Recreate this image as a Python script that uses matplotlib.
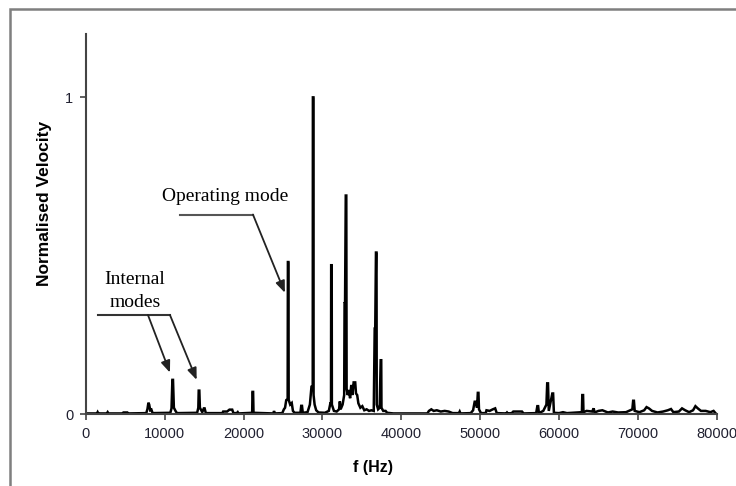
import matplotlib
matplotlib.use("Agg")
import numpy as np
from matplotlib import pyplot as plt
from matplotlib.patches import Rectangle

# spectrum: (frequency in Hz, normalised velocity)
low_band = [
    (0, 0.002), (1400, 0.002), (1480, 0.006), (1560, 0.002), (2650, 0.002),
    (2750, 0.006), (2850, 0.002), (4650, 0.002), (4750, 0.005), (5250, 0.005),
    (5350, 0.002), (7650, 0.003), (7800, 0.016), (7920, 0.036), (8020, 0.030),
    (8150, 0.012), (8300, 0.014), (8450, 0.003), (10700, 0.004), (10850, 0.018),
    (10960, 0.108), (11040, 0.108), (11150, 0.020), (11400, 0.008), (11550, 0.003),
    (14100, 0.004), (14250, 0.020), (14300, 0.074), (14380, 0.074), (14450, 0.020),
    (14750, 0.006), (14950, 0.018), (15050, 0.018), (15200, 0.003), (17300, 0.003),
    (17400, 0.008), (17900, 0.008), (18200, 0.014), (18550, 0.014), (18700, 0.003),
    (19150, 0.003), (19250, 0.006), (19350, 0.002), (21080, 0.004), (21120, 0.070),
    (21200, 0.070), (21250, 0.004), (23800, 0.002), (23850, 0.010), (23920, 0.002),
    (24900, 0.003), (25100, 0.015), (25250, 0.020), (25400, 0.044), (25580, 0.048),
    (25610, 0.480), (25680, 0.480), (25710, 0.045), (25900, 0.030), (26100, 0.035),
    (26250, 0.010), (26450, 0.004),
]

mid_band = [
    (27200, 0.004), (27300, 0.026), (27400, 0.026), (27500, 0.004), (28100, 0.006),
    (28400, 0.030), (28600, 0.086), (28760, 0.086), (28780, 1.000), (28850, 1.000),
    (28870, 0.060), (29000, 0.030), (29200, 0.012), (29500, 0.005), (30300, 0.004),
    (30800, 0.010), (31000, 0.034), (31080, 0.034), (31100, 0.470), (31170, 0.470),
    (31190, 0.030), (31450, 0.010), (31800, 0.008), (32100, 0.015), (32200, 0.040),
    (32300, 0.015), (32550, 0.030), (32750, 0.060), (32800, 0.350), (32860, 0.350),
    (32950, 0.690), (33020, 0.690), (33060, 0.080), (33200, 0.060), (33350, 0.076),
    (33500, 0.050), (33650, 0.092), (33800, 0.060), (33950, 0.100), (34150, 0.100),
    (34250, 0.065), (34400, 0.060), (34550, 0.034), (34800, 0.020), (35050, 0.025),
    (35300, 0.012), (35600, 0.015), (35900, 0.010), (36200, 0.012), (36500, 0.010),
    (36620, 0.270), (36690, 0.270), (36780, 0.510), (36850, 0.510), (36880, 0.030),
    (37050, 0.015), (37250, 0.020), (37380, 0.170), (37450, 0.170), (37480, 0.020),
    (37700, 0.010), (38000, 0.010), (38200, 0.004),
]

high_band = [
    (39000, 0.002), (43300, 0.002), (43500, 0.010), (43800, 0.015), (44100, 0.010),
    (44500, 0.012), (45000, 0.008), (45500, 0.010), (46000, 0.008), (46500, 0.003),
    (47300, 0.003), (47400, 0.008), (47500, 0.002), (48800, 0.003), (49100, 0.012),
    (49300, 0.039), (49450, 0.039), (49600, 0.020), (49700, 0.067), (49780, 0.067),
    (49850, 0.015), (50100, 0.003), (50700, 0.003), (50800, 0.012), (51200, 0.010),
    (51600, 0.015), (51900, 0.018), (52100, 0.003), (53300, 0.002), (53400, 0.005),
    (53500, 0.002), (54000, 0.003), (54200, 0.008), (55300, 0.008), (55500, 0.002),
    (57100, 0.003), (57250, 0.025), (57350, 0.025), (57450, 0.003), (58000, 0.010),
    (58400, 0.030), (58500, 0.097), (58600, 0.097), (58700, 0.010), (59150, 0.065),
    (59250, 0.065), (59350, 0.004), (60000, 0.003), (60500, 0.006), (61000, 0.003),
    (62900, 0.006), (62950, 0.060), (63050, 0.060), (63100, 0.006), (63500, 0.010),
    (64200, 0.008), (64400, 0.018), (64500, 0.005), (65000, 0.010), (65500, 0.012),
    (66200, 0.005), (66800, 0.008), (67500, 0.005), (68500, 0.006), (69300, 0.015),
    (69400, 0.042), (69500, 0.042), (69600, 0.010), (70200, 0.006), (70800, 0.012),
    (71100, 0.022), (71400, 0.018), (71800, 0.010), (72500, 0.005), (73200, 0.008),
    (73800, 0.012), (74200, 0.016), (74500, 0.006), (75200, 0.008), (75600, 0.018),
    (76000, 0.012), (76500, 0.006), (77000, 0.012), (77300, 0.025), (77600, 0.018),
    (78000, 0.010), (78600, 0.010), (79200, 0.006), (79600, 0.010), (79950, 0.000),
]

x_ticks = [0, 10000, 20000, 30000, 40000, 50000, 60000, 70000, 80000]
y_ticks = [0, 1]

spectrum = np.array(low_band + mid_band + high_band)
freq = spectrum[:, 0]
vel = spectrum[:, 1]

fig = plt.figure(figsize=(7.36, 4.86), dpi=100)
ax = fig.add_axes([0.1168, 0.148, 0.857, 0.782])

ax.plot(freq, vel, color="black", lw=1.8, solid_joinstyle="miter")

ax.set_xlim(0, 80000)
ax.set_ylim(0, 1.2)
ax.set_xticks(x_ticks)
ax.set_yticks(y_ticks)
ax.set_yticklabels(["0", "1"])
ax.tick_params(direction="out", length=4, width=1.2, color="#444444",
               labelsize=10.5, labelcolor="#202030", pad=5)
for s in ["top", "right"]:
    ax.spines[s].set_visible(False)
for s in ["left", "bottom"]:
    ax.spines[s].set_color("#444444")
    ax.spines[s].set_linewidth(1.5)

ax.set_xlabel("f (Hz)", fontsize=11.5, fontweight="bold", family="Liberation Sans")
ax.set_ylabel("Normalised Velocity", fontsize=12.5, fontweight="bold", family="Liberation Sans")
ax.xaxis.set_label_coords(0.455, -0.12)
ax.yaxis.set_label_coords(-0.054, 0.553)
for lab in ax.get_xticklabels() + ax.get_yticklabels():
    lab.set_family("Liberation Sans")

# annotations
serif = dict(family="Liberation Serif", fontsize=14, ha="center", va="center")
ax.text(17690, 0.687, "Operating mode", **serif)
ax.text(6150, 0.424, "Internal", **serif)
ax.text(6210, 0.351, "modes", **serif)

arrow = dict(arrowstyle="-|>,head_length=0.7,head_width=0.28", color="#222222", lw=1.3,
             shrinkA=0, shrinkB=0)
ax.plot([11920, 21180], [0.63, 0.63], color="#555555", lw=1.5)
ax.annotate("", xy=(25230, 0.383), xytext=(21180, 0.63), arrowprops=arrow)
ax.plot([1470, 10650], [0.313, 0.313], color="#333333", lw=1.5)
ax.annotate("", xy=(10650, 0.131), xytext=(7860, 0.313), arrowprops=arrow)
ax.annotate("", xy=(14040, 0.108), xytext=(10650, 0.313), arrowprops=arrow)

# grey frame round the figure
fig.patches.append(Rectangle((10 / 736, -0.1), 1.2, 1.1 - 9 / 486, transform=fig.transFigure,
                             fill=False, edgecolor="#7f7f7f", lw=1.8))

fig.savefig("out.png", dpi=100)
